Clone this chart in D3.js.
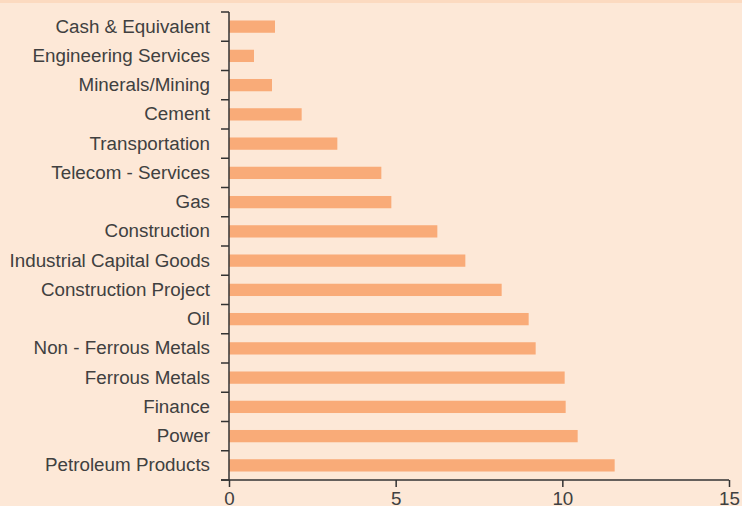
<!DOCTYPE html>
<html>
<head>
<meta charset="utf-8">
<script src="https://cdn.jsdelivr.net/npm/d3@7"></script>
<style>
  body { margin: 0; background: #fde8d7; }
  #chart text { font-family: "Liberation Sans", Arial, sans-serif; fill: #404040; }
</style>
</head>
<body>
<div id="chart"></div>
<script>
const width = 742;
const height = 506;

const sectors = [
  'Cash & Equivalent', 'Engineering Services', 'Minerals/Mining', 'Cement',
  'Transportation', 'Telecom - Services', 'Gas', 'Construction',
  'Industrial Capital Goods', 'Construction Project', 'Oil',
  'Non - Ferrous Metals', 'Ferrous Metals', 'Finance', 'Power', 'Petroleum Products'
];
const weights = [1.38, 0.75, 1.29, 2.18, 3.25, 4.57, 4.87, 6.25, 7.09, 8.18, 8.99, 9.20, 10.07, 10.10, 10.46, 11.57];
const xTicks = [0, 5, 10, 15];

const margin = {top: 12, right: 13, bottom: 26, left: 229};
const fontSize = '18.8px';

const svg = d3.select('#chart')
  .append('svg')
  .attr('width', width)
  .attr('height', height);

// thin darker strip along the top edge
svg.append('rect')
  .attr('x', 0).attr('y', 0)
  .attr('width', width).attr('height', 3)
  .attr('fill', '#fcdac0');

const x = d3.scaleLinear()
  .domain([0, 15])
  .range([margin.left, width - margin.right]);

const y = d3.scaleBand()
  .domain(sectors)
  .range([margin.top, height - margin.bottom])
  .paddingInner(0.58)
  .paddingOuter(0.29);

svg.selectAll('rect.bar')
  .data(sectors)
  .enter().append('rect')
  .attr('class', 'bar')
  .attr('x', x(0))
  .attr('y', d => y(d))
  .attr('width', (d, i) => x(weights[i]) - x(0))
  .attr('height', y.bandwidth())
  .attr('fill', '#f9ab78');

// y axis: labels at band centres, ticks on band boundaries
const yAxis = svg.append('g')
  .attr('transform', 'translate(' + margin.left + ',0)')
  .call(d3.axisLeft(y).tickSize(0).tickPadding(19));
yAxis.select('.domain').remove();
yAxis.selectAll('text').style('font-size', fontSize);

const step = (height - margin.bottom - margin.top) / sectors.length;
const bounds = d3.range(sectors.length + 1).map(i => margin.top + i * step);

svg.selectAll('line.ytick')
  .data(bounds)
  .enter().append('line')
  .attr('class', 'ytick')
  .attr('x1', margin.left - 8).attr('x2', margin.left)
  .attr('y1', d => d).attr('y2', d => d)
  .attr('stroke', '#333').attr('stroke-width', 1.5);

svg.append('line')
  .attr('x1', margin.left).attr('x2', margin.left)
  .attr('y1', margin.top).attr('y2', height - margin.bottom)
  .attr('stroke', '#333').attr('stroke-width', 1.5);

const xAxis = svg.append('g')
  .attr('transform', 'translate(0,' + (height - margin.bottom) + ')')
  .call(d3.axisBottom(x).tickValues(xTicks).tickSize(7).tickSizeOuter(0).tickPadding(5));
xAxis.select('.domain')
  .attr('d', 'M' + (margin.left - 8) + ',0H' + x(15))
  .attr('stroke', '#333').attr('stroke-width', 1.5);
xAxis.selectAll('.tick line').attr('stroke', '#333').attr('stroke-width', 1.5);
xAxis.selectAll('text').style('font-size', fontSize);
</script>
</body>
</html>
